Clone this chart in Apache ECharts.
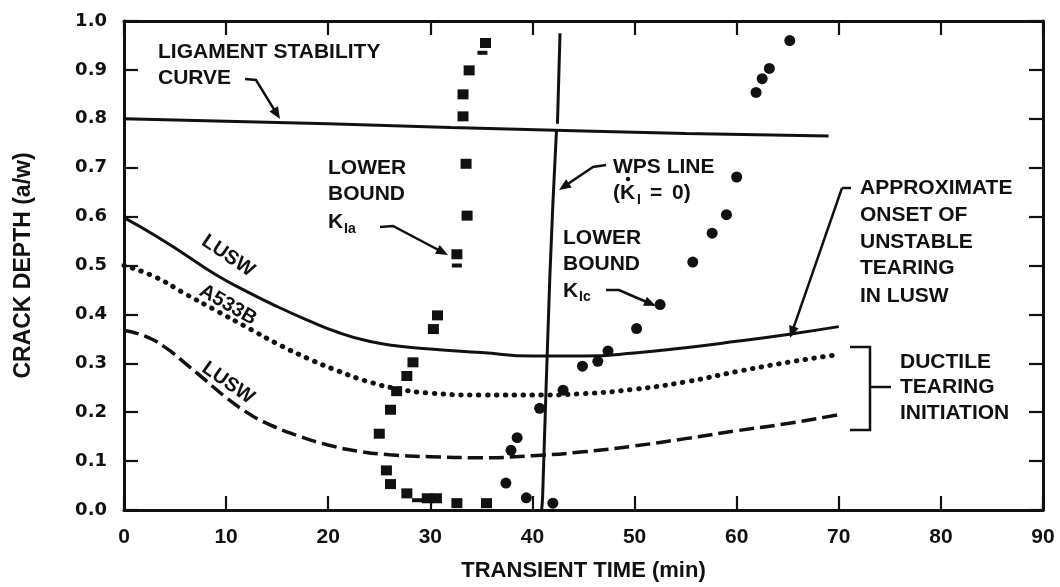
<!DOCTYPE html>
<html>
<head>
<meta charset="utf-8">
<script src="https://cdn.jsdelivr.net/npm/echarts@6/dist/echarts.min.js"></script>
<style>html,body{margin:0;padding:0;background:#fff}#c{width:1060px;height:587px}</style>
</head>
<body>
<div id="c"></div>
<script>
// ---- data ----
const xRange = [0, 90];
const yRange = [0, 1];
const ligament = [[0,0.80],[10,0.795],[20,0.79],[32,0.782],[45,0.775],[55,0.77],[69,0.765]];
const luswSolid = [[0,0.598],[3,0.562],[6,0.522],[9,0.481],[12,0.447],[15,0.416],[18,0.388],[21,0.363],[24,0.345],[27,0.335],[30,0.329],[35,0.322],[40,0.315],[45,0.315],[50,0.321],[55,0.332],[60,0.345],[65,0.359],[70,0.375]];
const a533bDotted = [[0,0.50],[3,0.477],[6,0.442],[9,0.408],[12,0.374],[15,0.34],[18,0.31],[21,0.284],[24,0.262],[27,0.247],[30,0.239],[35,0.235],[40,0.235],[45,0.238],[50,0.247],[55,0.262],[60,0.283],[65,0.302],[70,0.318]];
const luswDashed = [[0,0.367],[2,0.356],[4,0.333],[6,0.30],[8,0.265],[10,0.23],[12,0.2],[14,0.177],[17,0.152],[20,0.133],[23,0.12],[26,0.113],[30,0.109],[35,0.107],[40,0.111],[45,0.119],[50,0.131],[55,0.146],[60,0.162],[65,0.177],[70,0.195]];
const wpsUpper = [[42.7,0.975],[42.45,0.79]];
const wpsLower = [[42.35,0.775],[41.7,0.475],[41.0,0.03],[40.9,0.0]];
const kiaSquares = [[35.4,0.955],[33.8,0.899],[33.2,0.85],[33.2,0.805],[33.5,0.708],[33.6,0.602],[32.6,0.523],[30.7,0.398],[30.3,0.37],[28.3,0.302],[27.7,0.274],[26.7,0.243],[26.1,0.205],[25.0,0.156],[25.7,0.081],[26.1,0.053],[27.7,0.034],[29.7,0.024],[30.6,0.024],[32.6,0.014],[35.5,0.014]];
const kiaPartial = [[35.1,0.935],[32.6,0.50],[28.7,0.02]];
const kicCircles = [[40.7,0.208],[38.5,0.148],[37.9,0.122],[37.4,0.055],[39.4,0.025],[42.0,0.014],[43,0.245],[44.9,0.294],[46.4,0.304],[47.4,0.325],[50.2,0.371],[52.5,0.42],[55.7,0.507],[57.6,0.566],[59,0.604],[60,0.681],[61.9,0.854],[62.5,0.882],[63.2,0.903],[65.2,0.96]];

const FONT = 'Liberation Sans';
const FONT_WIDE = 'DejaVu Sans';
const INK = '#111';

function axisCommon() {
  return {
    axisLine: {show: true, onZero: false, lineStyle: {color: INK, width: 3}},
    axisTick: {show: true, inside: true, length: 14, lineStyle: {color: INK, width: 2.2}},
    splitLine: {show: false}
  };
}

const chart = echarts.init(document.getElementById('c'));

function txt(x, y, s, size, extra) {
  return Object.assign({type: 'text', x: x, y: y, z: 10, style: {text: s, fill: INK, font: 'bold ' + (size || 21) + 'px "' + FONT + '"', textVerticalAlign: 'middle', verticalAlign: 'middle'}}, extra || {});
}
function arrow(pts) {
  const n = pts.length;
  const [x1, y1] = pts[n - 2], [x2, y2] = pts[n - 1];
  const a = Math.atan2(y2 - y1, x2 - x1);
  const L = 12, W = 5;
  const bx = x2 - L * Math.cos(a), by = y2 - L * Math.sin(a);
  const head = [[x2, y2], [bx + W * Math.sin(a), by - W * Math.cos(a)], [bx - W * Math.sin(a), by + W * Math.cos(a)]];
  const line = pts.slice(0, n - 1).concat([[x2 - 7 * Math.cos(a), y2 - 7 * Math.sin(a)]]);
  return [
    {type: 'polyline', z: 10, shape: {points: line}, style: {stroke: INK, lineWidth: 2.5, fill: null}},
    {type: 'polygon', z: 10, shape: {points: head}, style: {fill: INK}}
  ];
}

const graphics = [].concat(
  [txt(158, 52, 'LIGAMENT STABILITY'), txt(158, 78, 'CURVE')],
  arrow([[245,79],[256,80],[280,119]]),
  [txt(328, 168, 'LOWER'), txt(328, 194, 'BOUND'), txt(328, 222, 'K'), txt(344, 229, 'Ia', 14)],
  arrow([[380,227],[393,226],[448,255]]),
  [txt(613, 167, 'WPS LINE'), txt(613, 193, '(K'), txt(637, 200, 'I', 14), txt(650, 193, '='), txt(672, 193, '0)'),
   {type: 'circle', z: 10, shape: {cx: 628, cy: 179, r: 2.2}, style: {fill: INK}}],
  arrow([[606,165],[593,167],[559,190]]),
  [txt(563, 238, 'LOWER'), txt(563, 264, 'BOUND'), txt(563, 291, 'K'), txt(579, 297, 'Ic', 14)],
  arrow([[606,290],[619,290],[628,294],[656,306]]),
  [txt(860, 188, 'APPROXIMATE'), txt(860, 215, 'ONSET OF'), txt(860, 242, 'UNSTABLE'), txt(860, 268, 'TEARING'), txt(860, 296, 'IN LUSW')],
  [{type: 'polyline', z: 10, shape: {points: [[851,188],[842,188]]}, style: {stroke: INK, lineWidth: 2.5}}],
  arrow([[842,188],[790,338]]),
  [{type: 'polyline', z: 10, shape: {points: [[850,347],[870,347],[870,430],[850,430]]}, style: {stroke: INK, lineWidth: 2.5, fill: null}},
   {type: 'polyline', z: 10, shape: {points: [[870,387],[891,387]]}, style: {stroke: INK, lineWidth: 2.5}},
   txt(900, 362, 'DUCTILE'), txt(900, 387, 'TEARING'), txt(900, 413, 'INITIATION')],
  [txt(228, 256, 'LUSW', 20, {rotation: -34 * Math.PI / 180}),
   txt(228, 305, 'A533B', 20, {rotation: -30 * Math.PI / 180}),
   txt(228, 383, 'LUSW', 20, {rotation: -35 * Math.PI / 180})]
);
graphics.forEach(g => {
  if (g.rotation) { g.style.align = 'center'; g.style.textAlign = 'center'; g.originX = 0; g.originY = 0; }
});

const option = {
  backgroundColor: '#fff',
  animation: false,
  textStyle: {fontFamily: FONT},
  grid: {left: 124, right: 17, top: 21, bottom: 73, containLabel: false},
  xAxis: [
    Object.assign({type: 'value', min: xRange[0], max: xRange[1], interval: 10, position: 'bottom',
      name: 'TRANSIENT TIME (min)', nameLocation: 'middle', nameGap: 50,
      nameTextStyle: {color: INK, fontFamily: FONT, fontWeight: 'bold', fontSize: 22},
      axisLabel: {color: INK, fontFamily: FONT, fontWeight: 'bold', fontSize: 21, margin: 17}}, axisCommon()),
    Object.assign({type: 'value', min: xRange[0], max: xRange[1], interval: 10, position: 'top',
      axisLabel: {show: false}}, axisCommon())
  ],
  yAxis: [
    Object.assign({type: 'value', min: yRange[0], max: yRange[1], interval: 0.1, position: 'left',
      name: 'CRACK DEPTH (a/w)', nameLocation: 'middle', nameGap: 89, nameRotate: 90,
      nameTextStyle: {color: INK, fontFamily: FONT, fontWeight: 'bold', fontSize: 23},
      axisLabel: {color: INK, fontFamily: FONT_WIDE, fontWeight: 'bold', fontSize: 18, margin: 17, formatter: v => v.toFixed(1)}}, axisCommon()),
    Object.assign({type: 'value', min: yRange[0], max: yRange[1], interval: 0.1, position: 'right',
      axisLabel: {show: false}}, axisCommon())
  ],
  series: [
    {type: 'line', data: ligament, showSymbol: false, lineStyle: {color: INK, width: 3}},
    {type: 'line', data: luswSolid, smooth: true, showSymbol: false, lineStyle: {color: INK, width: 3}},
    {type: 'line', data: a533bDotted, smooth: true, showSymbol: false, lineStyle: {color: INK, width: 5, type: [0.5, 8.4], cap: 'round'}},
    {type: 'line', data: luswDashed, smooth: true, showSymbol: false, lineStyle: {color: INK, width: 3.5, type: [15, 6]}},
    {type: 'line', data: wpsUpper, showSymbol: false, lineStyle: {color: INK, width: 3}},
    {type: 'line', data: wpsLower, smooth: true, showSymbol: false, lineStyle: {color: INK, width: 3}},
    {type: 'scatter', data: kiaSquares, symbol: 'rect', symbolSize: [11, 10], itemStyle: {color: INK, opacity: 1}, z: 5},
    {type: 'scatter', data: kiaPartial, symbol: 'rect', symbolSize: [10, 4], itemStyle: {color: INK, opacity: 1}, z: 5},
    {type: 'scatter', data: kicCircles, symbol: 'circle', symbolSize: 11, itemStyle: {color: INK, opacity: 1}, z: 5}
  ],
  graphic: graphics
};
chart.setOption(option);
</script>
</body>
</html>
